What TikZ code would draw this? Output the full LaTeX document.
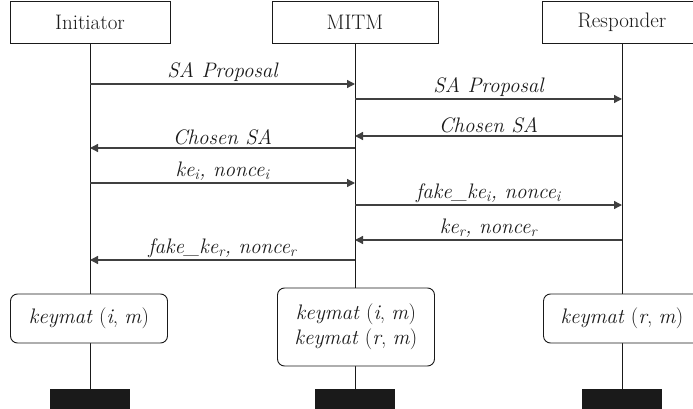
\documentclass[tikz,border=0pt]{standalone}
\usetikzlibrary{arrows.meta,positioning,backgrounds}
\definecolor{ink}{HTML}{1A1A1A}
\definecolor{wire}{HTML}{404040}
\newcommand{\lblsize}{\fontsize{21}{25}\selectfont}
\tikzset{
  every node/.append style = {text=ink},
  % --- participants -------------------------------------------------------
  actor/.style    = {draw=ink, fill=white, line width=0.9pt, inner sep=0pt,
                     minimum height=42pt, font=\lblsize},
  lifeline/.style = {draw=ink, line width=0.8pt},
  endbar/.style   = {fill=ink, draw=none, inner sep=0pt,
                     minimum width=80pt, minimum height=24pt},
  % --- key material ---------------------------------------------------------
  keybox/.style   = {draw=ink, fill=white, line width=0.9pt, rounded corners=7pt,
                     inner sep=0pt, minimum width=157pt, align=center,
                     font=\lblsize},
  % --- messages -------------------------------------------------------------
  msg/.style      = {draw=wire, line width=1.3pt,
                     -{Triangle[length=8pt,width=8pt]}},
  msglbl/.style   = {above, inner sep=2pt, font=\lblsize\itshape},
}

\begin{document}
\begin{tikzpicture}[x=1pt, y=-1pt]
\useasboundingbox (0,0) rectangle (693,409);
\clip (0,0) rectangle (693,409);

% ============================ participants =================================
\node[actor, minimum width=160pt] (init) at (90,22)  {Initiator};
\node[actor, minimum width=166pt] (mitm) at (355,22) {MITM};
\node[actor, minimum width=160pt] (resp) at (622,22) {Responder};

% ============================ key material =================================
\node[keybox, minimum height=49pt] (keyI) at (89,318.5)
     {\textit{keymat} (\textit{i}, \textit{m})};
\node[keybox, minimum height=78pt] (keyM) at (356,327)
     {\textit{keymat} (\textit{i}, \textit{m})\\ \textit{keymat} (\textit{r}, \textit{m})};
\node[keybox, minimum height=49pt] (keyR) at (622,318.5)
     {\textit{keymat} (\textit{r}, \textit{m})};

\node[endbar] (barI) at (90,401)  {};
\node[endbar] (barM) at (355,401) {};
\node[endbar] (barR) at (622,401) {};

% lifelines pass behind the key boxes
\begin{scope}[on background layer]
  \foreach \a/\b in {init/barI, mitm/barM, resp/barR}
    \draw[lifeline] (\a.south) -- (\b.north);
\end{scope}

% ============================== messages ===================================
\foreach \y/\a/\b/\txt in {
    84/init/mitm/{SA Proposal},
    99/mitm/resp/{SA Proposal},
   136/resp/mitm/{Chosen SA},
   148/mitm/init/{Chosen SA},
   183/init/mitm/{ke\textsubscript{i}, nonce\textsubscript{i}},
   205/mitm/resp/{fake\_ke\textsubscript{i}, nonce\textsubscript{i}},
   240/resp/mitm/{ke\textsubscript{r}, nonce\textsubscript{r}},
   260/mitm/init/{fake\_ke\textsubscript{r}, nonce\textsubscript{r}}}
  \draw[msg] (\a |- 0,\y) -- node[msglbl] {\txt} (\b |- 0,\y);

\end{tikzpicture}
\end{document}
